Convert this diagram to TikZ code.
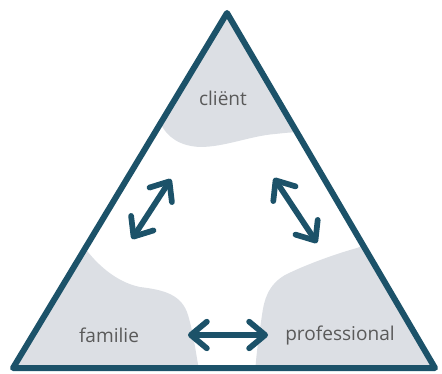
\documentclass[tikz,border=0pt]{standalone}
\usepackage{fontspec}
\setmainfont{Open Sans}
\usetikzlibrary{arrows.meta}
\definecolor{teal}{HTML}{1C5269}
\definecolor{greyfill}{HTML}{DCDFE4}
\definecolor{labelgrey}{HTML}{5A5A5A}
\tikzset{
  edge/.style={draw=teal, line width=4.5pt, line join=round, line cap=round},
  barb/.tip={Straight Barb[length=12pt, width=20pt, line cap=round, line join=round]},
  rel/.style={draw=teal, line width=4.3pt, line cap=round, barb-barb},
  zone/.style={fill=greyfill, draw=none},
  lbl/.style={text=labelgrey, font=\fontsize{14.3}{16}\selectfont, inner sep=0pt}
}
\begin{document}
\begin{tikzpicture}[x=0.75pt, y=-0.75pt]
\useasboundingbox (0,0) rectangle (442,374);
\coordinate (top) at (227,13);
\coordinate (bl) at (13,368);
\coordinate (br) at (435,368);
\begin{scope}
  \clip (top) -- (bl) -- (br) -- cycle;
  \path[zone] (100,0) -- (160,123) .. controls (168,138) and (180,146) .. (200,147)
     .. controls (225,147) and (250,136) .. (275,134)
     .. controls (285,133) and (292,132) .. (305,132) -- (350,0) -- cycle;
  \path[zone] (85,248) .. controls (95,262) and (115,282) .. (140,287)
     .. controls (165,290) and (182,295) .. (188,315)
     .. controls (194,335) and (196,355) .. (200,375) -- (0,375) -- (0,240) -- cycle;
  \path[zone] (370,243) -- (357,248) .. controls (335,254) and (305,265) .. (285,275)
     .. controls (268,285) and (264,300) .. (262,315)
     .. controls (259,335) and (256,355) .. (255,375) -- (442,375) -- (442,240) -- cycle;
\end{scope}
\draw[edge] (top) -- (bl) -- (br) -- cycle;
\node[lbl] (client) at (223,98) {cliënt};
\node[lbl] (familie) at (109,335) {familie};
\node[lbl] (prof) at (340,335) {professional};
\coordinate (l1) at (171,179);
\coordinate (l2) at (132,239);
\coordinate (r1) at (274,178);
\coordinate (r2) at (317,243);
\coordinate (b1) at (188,335);
\coordinate (b2) at (268,335);
\draw[rel] (l2) -- (l1);
\draw[rel] (r1) -- (r2);
\draw[rel] (b1) -- (b2);
\end{tikzpicture}
\end{document}
